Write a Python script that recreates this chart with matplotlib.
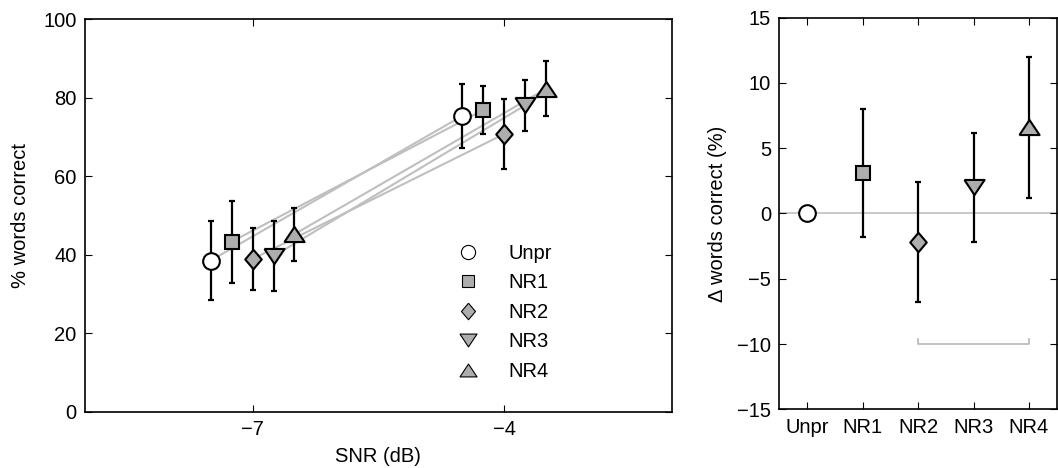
import numpy as np
import matplotlib
matplotlib.use('Agg')
from matplotlib import pyplot as plt

plt.rcParams['font.family'] = ['Liberation Sans', 'DejaVu Sans']
plt.rcParams['font.size'] = 14.5

conds = ['Unpr', 'NR1', 'NR2', 'NR3', 'NR4']
snr = [-7, -4]
offsets = [-0.5, -0.25, 0.0, 0.25, 0.5]

low_mean = [38.5, 43.3, 38.9, 39.6, 45.2]
low_err = [10.0, 10.4, 8.0, 8.9, 6.8]
high_mean = [75.3, 76.8, 70.7, 78.0, 82.2]
high_err = [8.2, 6.2, 8.9, 6.5, 7.0]

diff_mean = [0.0, 3.1, -2.2, 2.0, 6.6]
diff_err = [0.0, 4.9, 4.6, 4.2, 5.4]

# MATLAB-ish marker shapes
tri_up = [(-1, -0.75), (1, -0.75), (0, 0.75), (-1, -0.75)]
tri_dn = [(-1, 0.75), (1, 0.75), (0, -0.75), (-1, 0.75)]
diam = [(0, 1), (0.85, 0), (0, -1), (-0.85, 0), (0, 1)]
markers = ['o', 's', diam, tri_dn, tri_up]
msizes = [12, 9.5, 14, 14.5, 14.5]
faces = ['white', '0.68', '0.68', '0.68', '0.68']

fig = plt.figure()
fig.set_dpi(100)
fig.set_size_inches(10.58, 4.68)

ax1 = fig.add_axes([0.0803, 0.1203, 0.5545, 0.839])
ax2 = fig.add_axes([0.7366, 0.1254, 0.2622, 0.837])

for ax in (ax1, ax2):
    ax.tick_params(direction='in', top=True, right=True, length=5, width=0.8,
                   labelsize=14.5, pad=6)
    for s in ax.spines.values():
        s.set_linewidth(1.2)

# left panel
for i in range(len(conds)):
    xs = [snr[0] + offsets[i], snr[1] + offsets[i]]
    ax1.plot(xs, [low_mean[i], high_mean[i]], color='0.75', lw=1.5, zorder=1)
for i in range(len(conds)):
    xs = [snr[0] + offsets[i], snr[1] + offsets[i]]
    ax1.errorbar(xs, [low_mean[i], high_mean[i]], yerr=[low_err[i], high_err[i]],
                 fmt='none', ecolor='k', elinewidth=1.6, capsize=2.5, capthick=1.6,
                 zorder=2)
    ax1.plot(xs, [low_mean[i], high_mean[i]], ls='none', marker=markers[i],
             ms=msizes[i], mfc=faces[i], mec='k', mew=1.5, zorder=3,
             label=conds[i])

ax1.set_xlim(-9, -2)
ax1.set_ylim(0, 100)
ax1.set_xticks(snr)
ax1.set_yticks(np.arange(0, 101, 20))
ax1.set_xlabel('SNR (dB)')
ax1.xaxis.set_label_coords(0.5, -0.089)
ax1.set_ylabel('% words correct')
ax1.yaxis.set_label_coords(-0.094, 0.5)

handles = []
for i in range(len(conds)):
    h, = ax1.plot([], [], ls='none', marker=markers[i], ms=msizes[i] * 0.85,
                  mfc=faces[i], mec='k', mew=0.8)
    handles.append(h)
ax1.legend(handles, conds, loc='center left', bbox_to_anchor=(0.588, 0.253),
           frameon=False, handlelength=2.0, handletextpad=1.0,
           labelspacing=0.52, fontsize=14.5, borderpad=0.4)

# right panel
xpos = np.arange(1, len(conds) + 1)
ax2.axhline(0, color='0.75', lw=1.2, zorder=0)
ax2.plot([3, 3, 5, 5], [-9.6, -10, -10, -9.6], color='0.72', lw=1.2, zorder=0)
for i in range(len(conds)):
    if diff_err[i] > 0:
        ax2.errorbar(xpos[i], diff_mean[i], yerr=diff_err[i], fmt='none',
                     ecolor='k', elinewidth=1.6, capsize=2.5, capthick=1.6, zorder=2)
    ax2.plot(xpos[i], diff_mean[i], ls='none', marker=markers[i], ms=msizes[i],
             mfc=faces[i], mec='k', mew=1.5, zorder=3)

ax2.set_xlim(0.5, 5.5)
ax2.set_ylim(-15, 15)
ax2.set_xticks(xpos)
ax2.set_xticklabels(conds)
ax2.set_yticks(np.arange(-15, 16, 5))
ax2.set_ylabel('\u0394 words correct (%)')
ax2.yaxis.set_label_coords(-0.189, 0.5)

fig.savefig('out.png', dpi=100)
